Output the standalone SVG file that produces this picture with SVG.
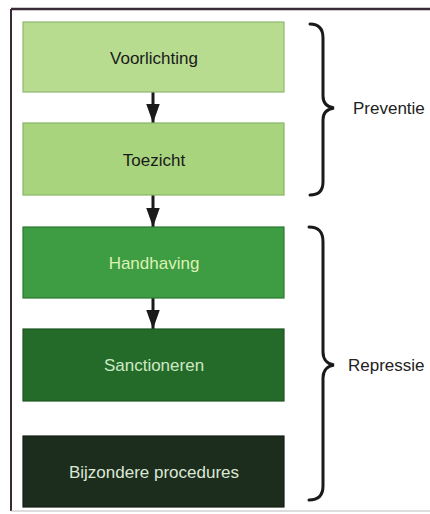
<svg xmlns="http://www.w3.org/2000/svg" width="430" height="514" viewBox="0 0 430 514">
<defs>
<style>
.box{stroke-width:1.2}
.lbl{font-family:"Liberation Sans",Arial,sans-serif;font-size:17px;text-anchor:middle}
.side{font-family:"Liberation Sans",Arial,sans-serif;font-size:17px;fill:#222}
.conn{stroke:#1a1a1a;stroke-width:3;fill:none}
.brace{stroke:#1a1a1a;stroke-width:3;fill:none;stroke-linecap:round}
</style>
<marker id="ah" viewBox="0 0 14 10" refX="14" refY="5" markerWidth="6.3" markerHeight="4.5" orient="auto" markerUnits="strokeWidth">
<path d="M0,0 L14,5 L0,10 Z" fill="#1a1a1a"/>
</marker>
</defs>
<rect width="430" height="514" fill="#ffffff"/>
<g id="frame" fill="none" stroke="#3a2a35">
<line x1="11" y1="9" x2="430" y2="9" stroke-width="2.5"/>
<line x1="11" y1="9" x2="11" y2="511" stroke-width="2"/>
<line x1="11" y1="511" x2="430" y2="511" stroke-width="1" stroke="#bbbbbb"/>
</g>
<g id="connectors">
<line class="conn" x1="153" y1="92" x2="153" y2="123" marker-end="url(#ah)"/>
<line class="conn" x1="153" y1="195" x2="153" y2="227" marker-end="url(#ah)"/>
<line class="conn" x1="153" y1="298" x2="153" y2="329" marker-end="url(#ah)"/>
</g>
<g id="n1">
<rect class="box" x="23" y="22" width="261" height="70" fill="#b7dc90" stroke="#8fb870"/>
<text class="lbl" x="154" y="64" fill="#1a1a1a">Voorlichting</text>
</g>
<g id="n2">
<rect class="box" x="23" y="123" width="261" height="72" fill="#a9d47e" stroke="#86b465"/>
<text class="lbl" x="154" y="166" fill="#1a1a1a">Toezicht</text>
</g>
<g id="n3">
<rect class="box" x="23" y="227" width="261" height="71" fill="#3e9c42" stroke="#2c7a30"/>
<text class="lbl" x="154" y="269" fill="#dcf2b4">Handhaving</text>
</g>
<g id="n4">
<rect class="box" x="23" y="329" width="261" height="72" fill="#246b2a" stroke="#1c5420"/>
<text class="lbl" x="154" y="371" fill="#cfe8c4">Sanctioneren</text>
</g>
<g id="n5">
<rect class="box" x="23" y="436" width="261" height="71" fill="#1c2c1d" stroke="#151f15"/>
<text class="lbl" x="154" y="478" fill="#dbe8d6">Bijzondere procedures</text>
</g>
<g id="preventie">
<path class="brace" d="M310,24 C318,24 323,28 323,38 L323,96 C323,103 327,107 334,108 C327,109 323,113 323,120 L323,182 C323,191 318,195 310,195"/>
<text class="side" x="353" y="114">Preventie</text>
</g>
<g id="repressie">
<path class="brace" d="M309,227 C318,227 323,231 323,242 L323,352 C323,359 327,364 334,365 C327,366 323,371 323,378 L323,486 C323,496 318,500 309,500"/>
<text class="side" x="348" y="371">Repressie</text>
</g>
</svg>
